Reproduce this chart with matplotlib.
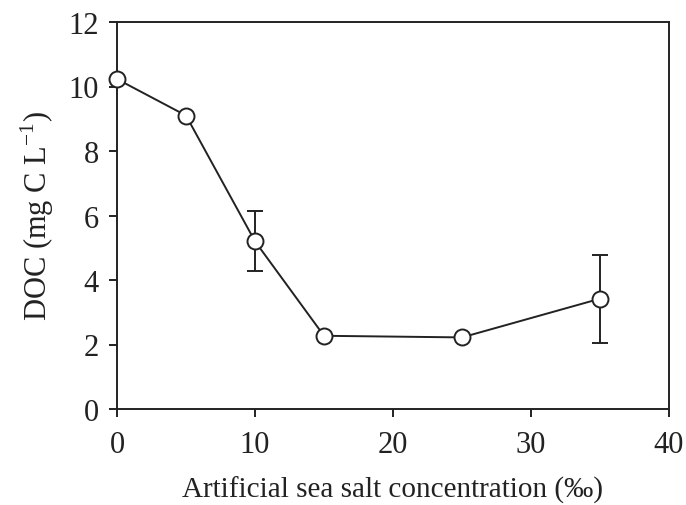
import matplotlib
matplotlib.use('Agg')
import matplotlib.pyplot as plt

salt = [0, 5, 10, 15, 25, 35]
doc = [10.23, 9.1, 5.2, 2.27, 2.22, 3.42]
doc_err = [0, 0, 0.93, 0, 0, 1.37]

plt.rcParams['font.family'] = ['Liberation Serif', 'DejaVu Serif']

fig = plt.figure(figsize=(6.86, 5.06), dpi=100)
ax = fig.add_axes([117 / 686, 1 - 410 / 506, 552 / 686, 387 / 506])

ink = '#222222'
ax.errorbar(salt, doc, yerr=doc_err, color=ink, lw=1.4, elinewidth=1.4,
            capsize=6, capthick=1.4, marker='o', markersize=11.5,
            markerfacecolor='white', markeredgecolor=ink, markeredgewidth=1.4,
            clip_on=False, zorder=3)

ax.set_xlim(0, 40)
ax.set_ylim(0, 12)
ax.set_xticks([0, 10, 20, 30, 40])
ax.set_yticks(range(0, 13, 2))
for s in ax.spines.values():
    s.set_linewidth(1.4)
    s.set_color(ink)
ax.tick_params(direction='out', length=6, width=1.4, color=ink,
               labelsize=22, labelcolor=ink)
ax.tick_params(axis='x', pad=9)
ax.tick_params(axis='y', pad=7)

ax.set_xlabel('Artificial sea salt concentration (‰)', fontsize=21, color=ink, labelpad=12)
ax.set_ylabel('DOC (mg C L$^{\\mathregular{-1}}$)', fontsize=22, color=ink, labelpad=9)

fig.savefig('out.png', dpi=100)
